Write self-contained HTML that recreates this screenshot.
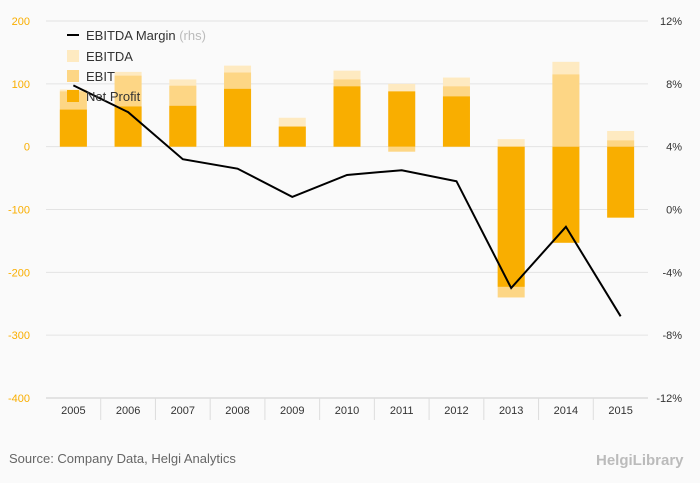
<!DOCTYPE html>
<html><head><meta charset="utf-8"><style>
body{margin:0;background:#fafafa;font-family:"Liberation Sans",sans-serif;}
svg{display:block}
</style></head><body>
<svg id="c" width="700" height="483">
<rect x="0" y="0" width="700" height="483" fill="#fafafa"/>
<g id="grid"></g><g id="bars"></g><g id="line"></g><g id="axes"></g>
<g font-size="13" fill="#333">
<line x1="67" y1="35" x2="79" y2="35" stroke="#000" stroke-width="2"/>
<text x="86" y="40">EBITDA Margin <tspan fill="#bbb">(rhs)</tspan></text>
<rect x="67" y="50" width="12" height="12" fill="#feeac1"/>
<text x="86" y="61">EBITDA</text>
<rect x="67" y="70" width="12" height="12" fill="#fdd685"/>
<text x="86" y="81">EBIT</text>
<rect x="67" y="90" width="12" height="12" fill="#f9ae00"/>
<text x="86" y="101">Net Profit</text>
</g>
<text x="9" y="463" font-size="13" fill="#666">Source: Company Data, Helgi Analytics</text>
<text x="596" y="465" font-size="15" fill="#bbb" font-weight="bold">HelgiLibrary</text>
</svg>
<script>
const years=["2005","2006","2007","2008","2009","2010","2011","2012","2013","2014","2015"];
const ebitda=[91,119,107,129,46,121,100,110,12,135,25];
const ebit=[88,113,97,118,32,107,-8,96,-240,115,10];
const netProfit=[59,64,65,92,32,96,88,80,-223,-153,-113];
const margin=[7.9,6.2,3.2,2.6,0.8,2.2,2.5,1.8,-5.0,-1.1,-6.8];
const leftTicks=[200,100,0,-100,-200,-300,-400];
const rightTicks=["12%","8%","4%","0%","-4%","-8%","-12%"];
const NS="http://www.w3.org/2000/svg";
const L=46,R=648,T=21,B=398;
const y=v=>T+(200-v)*(B-T)/600;
const yr=p=>T+(12-p)*(B-T)/24;
const bw=(R-L)/years.length;
const xc=i=>L+bw*(i+0.5);
function mk(tag,attrs,parent){const e=document.createElementNS(NS,tag);for(const k in attrs)e.setAttribute(k,attrs[k]);document.getElementById(parent).appendChild(e);return e;}
leftTicks.forEach((t,i)=>{
 const gy=y(t);
 const g=mk('line',{x1:L,x2:R,y1:gy,y2:gy,stroke:'#e3e3e3'},'grid');
 
 
 const lt=mk('text',{x:30,y:gy+4,'text-anchor':'end','font-size':11,fill:'#f9ae00'},'axes');lt.textContent=t;
 
 
 const rt=mk('text',{x:682,y:gy+4,'text-anchor':'end','font-size':11,fill:'#333'},'axes');rt.textContent=rightTicks[i];
 
 
});
mk('line',{x1:L,x2:R,y1:B,y2:B,stroke:'#ccc'},'axes');
years.forEach((yv,i)=>{
 if(i>0){const s=mk('line',{x1:L+bw*i,x2:L+bw*i,y1:B,y2:B+22,stroke:'#ddd'},'axes');}
 const t=mk('text',{x:xc(i),y:B+16,'text-anchor':'middle','font-size':11,fill:'#333'},'axes');t.textContent=yv;
 
 
 [[ebitda,'#feeac1','bar-ebitda'],[ebit,'#fdd685','bar-ebit'],[netProfit,'#f9ae00','bar-net-profit']].forEach(([arr,col,nm])=>{
  const v=arr[i],y0=y(0),y1=y(v);
  const r=mk('rect',{x:xc(i)-13.5,width:27,y:Math.min(y0,y1),height:Math.abs(y1-y0),fill:col},'bars');
  
  
 });
});
const p=mk('polyline',{points:margin.map((m,i)=>xc(i)+','+yr(m)).join(' '),fill:'none',stroke:'#000','stroke-width':2},'line');


</script>
</body></html>
